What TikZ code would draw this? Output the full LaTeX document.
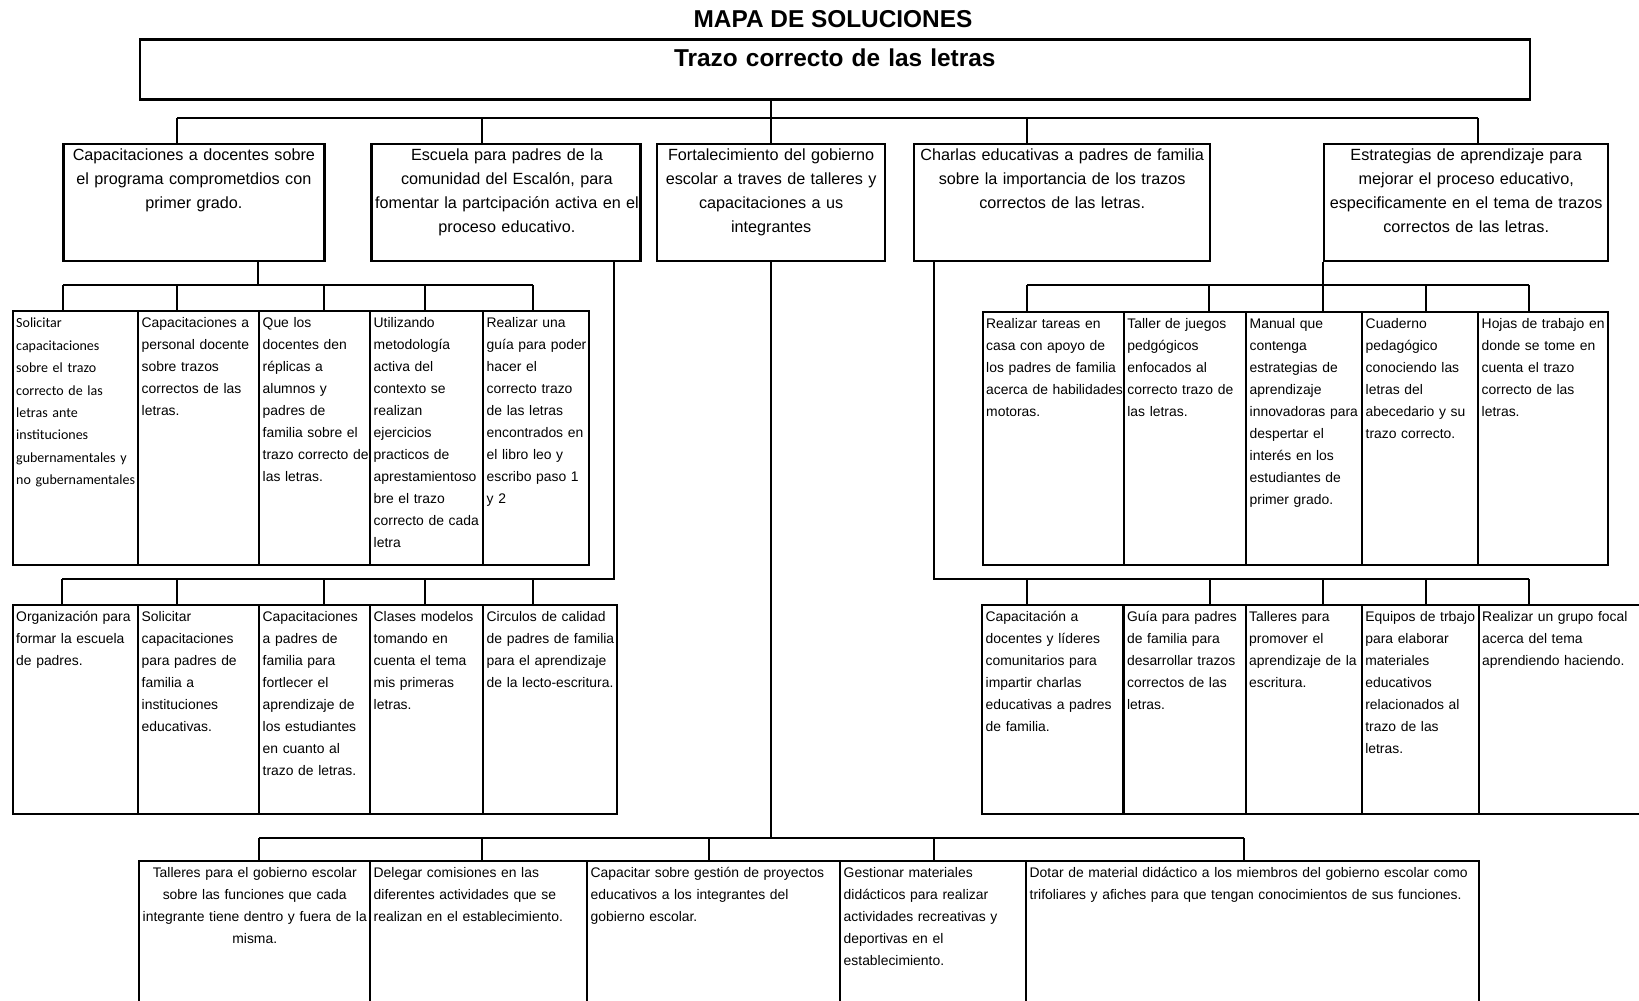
\documentclass[tikz,border=0pt]{standalone}
\usepackage{fontspec}
\setmainfont{Liberation Sans}
\newfontfamily\calfont{Carlito}
\usepackage{tikz}
% lines that never wrap
\newcommand{\lns}[1]{\begin{tabular}[t]{@{}l@{}}#1\end{tabular}}
\newcommand{\clns}[1]{\begin{tabular}[t]{@{}c@{}}#1\end{tabular}}

\begin{document}
\begin{tikzpicture}[x=1pt,y=-1pt,
  cell/.style={draw, line width=2.4pt, inner xsep=3.5pt, inner ysep=0pt, anchor=north west, align=left, font=\fontsize{13.9}{22}\selectfont},
  head/.style={cell, align=center, font=\fontsize{16.2}{24}\selectfont, text height=16.2pt, text depth=101.1pt},
  rowa/.style={cell, text height=16.6pt, text depth=236.9pt},
  rowb/.style={cell, text height=16.6pt, text depth=192.4pt},
  rowc/.style={cell, text height=16.6pt, text depth=143.4pt},
  link/.style={line width=2pt}]
\useasboundingbox (0,0) rectangle (1639,1001);
\clip (0,0) rectangle (1639,1001);

\node[font=\bfseries\fontsize{24.4}{28}\selectfont] (mapa) at (833,19) {MAPA DE SOLUCIONES};
\node[cell, align=center, font=\bfseries\fontsize{24.4}{28}\selectfont, text width=1383pt, text height=26.5pt, text depth=33.5pt] (trazo) at (138.6,38.3) {Trazo correcto de las letras};

% first level
\node[head, text width=254pt] (cap) at (62.2,142.7) {\clns{Capacitaciones a docentes sobre\\ el programa comprometdios con\\ primer grado.}};
\node[head, text width=262pt] (esc) at (370.3,142.7) {\clns{Escuela para padres de la\\ comunidad del Escalón, para\\ fomentar la partcipación activa en el\\ proceso educativo.}};
\node[head, text width=221pt] (fort) at (655.9,142.7) {\clns{Fortalecimiento del gobierno\\ escolar a traves de talleres y\\ capacitaciones a us\\ integrantes}};
\node[head, text width=289pt] (char) at (913,142.7) {\clns{Charlas educativas a padres de familia\\ sobre la importancia de los trazos\\ correctos de las letras.}};
\node[head, text width=277pt] (estr) at (1323,142.7) {\clns{Estrategias de aprendizaje para\\ mejorar el proceso educativo,\\ especificamente en el tema de trazos\\ correctos de las letras.}};

% left, second level
\node[rowa, text width=118.5pt, font=\calfont\fontsize{14}{22.4}\selectfont] (sol) at (11.5,310) {\lns{Solicitar\\ capacitaciones\\ sobre el trazo\\ correcto de las\\ letras ante\\ instituciones\\ gubernamentales y\\ no gubernamentales}};
\node[rowa, text width=114pt] (capd) at (137,310) {\lns{Capacitaciones a\\ personal docente\\ sobre trazos\\ correctos de las\\ letras.}};
\node[rowa, text width=104pt] (que) at (258,310) {\lns{Que los\\ docentes den\\ réplicas a\\ alumnos y\\ padres de\\ familia sobre el\\ trazo correcto de\\ las letras.}};
\node[rowa, text width=106pt] (util) at (369,310) {\lns{Utilizando\\ metodología\\ activa del\\ contexto se\\ realizan\\ ejercicios\\ practicos de\\ aprestamientoso\\ bre el trazo\\ correcto de cada\\ letra}};
\node[rowa, text width=98.5pt] (guia) at (482,310) {\lns{Realizar una\\ guía para poder\\ hacer el\\ correcto trazo\\ de las letras\\ encontrados en\\ el libro leo y\\ escribo paso 1\\ y 2}};

% left, third level
\node[rowb, text width=118.5pt] (org) at (11.5,604) {\lns{Organización para\\ formar la escuela\\ de padres.}};
\node[rowb, text width=114pt] (solp) at (137,604) {\lns{Solicitar\\ capacitaciones\\ para padres de\\ familia a\\ instituciones\\ educativas.}};
\node[rowb, text width=104pt] (capp) at (258,604) {\lns{Capacitaciones\\ a padres de\\ familia para\\ fortlecer el\\ aprendizaje de\\ los estudiantes\\ en cuanto al\\ trazo de letras.}};
\node[rowb, text width=106pt] (clas) at (369,604) {\lns{Clases modelos\\ tomando en\\ cuenta el tema\\ mis primeras\\ letras.}};
\node[rowb, text width=126.7pt] (circ) at (482,604) {\lns{Circulos de calidad\\ de padres de familia\\ para el aprendizaje\\ de la lecto-escritura.}};

% right, second level
\node[rowa, text width=134.2pt] (tar) at (981.5,310.5) {\lns{Realizar tareas en\\ casa con apoyo de\\ los padres de familia\\ acerca de habilidades\\ motoras.}};
\node[rowa, text width=115.3pt] (tal) at (1122.7,310.5) {\lns{Taller de juegos\\ pedgógicos\\ enfocados al\\ correcto trazo de\\ las letras.}};
\node[rowa, text width=109pt] (man) at (1245,310.5) {\lns{Manual que\\ contenga\\ estrategias de\\ aprendizaje\\ innovadoras para\\ despertar el\\ interés en los\\ estudiantes de\\ primer grado.}};
\node[rowa, text width=109pt] (cuad) at (1361,310.5) {\lns{Cuaderno\\ pedagógico\\ conociendo las\\ letras del\\ abecedario y su\\ trazo correcto.}};
\node[rowa, text width=122.6pt] (hoj) at (1477,310.5) {\lns{Hojas de trabajo en\\ donde se tome en\\ cuenta el trazo\\ correcto de las\\ letras.}};

% right, third level
\node[rowb, text width=134.4pt] (capl) at (981,604) {\lns{Capacitación a\\ docentes y líderes\\ comunitarios para\\ impartir charlas\\ educativas a padres\\ de familia.}};
\node[rowb, text width=115.1pt] (gpad) at (1122.4,604) {\lns{Guía para padres\\ de familia para\\ desarrollar trazos\\ correctos de las\\ letras.}};
\node[rowb, text width=109.1pt] (tesc) at (1244.5,604) {\lns{Talleres para\\ promover el\\ aprendizaje de la\\ escritura.}};
\node[rowb, text width=109.9pt] (equi) at (1360.6,604) {\lns{Equipos de trbajo\\ para elaborar\\ materiales\\ educativos\\ relacionados al\\ trazo de las\\ letras.}};
\node[rowb, text width=193pt] (foc) at (1477.5,604) {\lns{Realizar un grupo focal\\ acerca del tema\\ aprendiendo haciendo.}};

% bottom row
\node[rowc, text width=224pt, align=center] (tgob) at (138,860) {\clns{Talleres para el gobierno escolar\\ sobre las funciones que cada\\ integrante tiene dentro y fuera de la\\ misma.}};
\node[rowc, text width=210pt] (dele) at (369,860) {\lns{Delegar comisiones en las\\ diferentes actividades que se\\ realizan en el establecimiento.}};
\node[rowc, text width=246pt] (gest) at (586,860) {\lns{Capacitar sobre gestión de proyectos\\ educativos a los integrantes del\\ gobierno escolar.}};
\node[rowc, text width=179pt] (mat) at (839,860) {\lns{Gestionar materiales\\ didácticos para realizar\\ actividades recreativas y\\ deportivas en el\\ establecimiento.}};
\node[rowc, text width=446pt] (dot) at (1025,860) {\lns{Dotar de material didáctico a los miembros del gobierno escolar como\\ trifoliares y afiches para que tengan conocimientos de sus funciones.}};

% bus points
\coordinate (a1) at (177,118);
\coordinate (a2) at (482,118);
\coordinate (a4) at (1027,118);
\coordinate (a5) at (1478,118);
\coordinate (b0) at (258,285);
\coordinate (b1) at (63,285);
\coordinate (b2) at (177,285);
\coordinate (b3) at (324,285);
\coordinate (b4) at (425,285);
\coordinate (b5) at (532.5,285);
\coordinate (c0) at (614,579);
\coordinate (c1) at (62,579);
\coordinate (c2) at (177,579);
\coordinate (c3) at (323.5,579);
\coordinate (c4) at (425,579);
\coordinate (c5) at (532.5,579);
\coordinate (d0) at (934,579);
\coordinate (d1) at (1027,579);
\coordinate (d2) at (1210,579);
\coordinate (d3) at (1323,579);
\coordinate (d4) at (1425.6,579);
\coordinate (d5) at (1528.6,579);
\coordinate (e1) at (1027,285);
\coordinate (e2) at (1209,285);
\coordinate (e4) at (1426.4,285);
\coordinate (e5) at (1528.6,285);
\coordinate (f0) at (771,838);
\coordinate (f1) at (259,838);
\coordinate (f2) at (482,838);
\coordinate (f3) at (709,838);
\coordinate (f4) at (934,838);
\coordinate (f5) at (1244,838);

% connectors
\draw[link] (trazo.south -| f0) -- (f0 |- fort.north);
\draw[link] (a1) -- (a5);
\draw[link] (a1) -- (a1 |- cap.north);
\draw[link] (a2) -- (a2 |- esc.north);
\draw[link] (a4) -- (a4 |- char.north);
\draw[link] (a5) -- (a5 |- estr.north);

\draw[link] (b0 |- cap.south) -- (b0);
\draw[link] (b1) -- (b5);
\draw[link] (b1) -- (b1 |- sol.north);
\draw[link] (b2) -- (b2 |- capd.north);
\draw[link] (b3) -- (b3 |- que.north);
\draw[link] (b4) -- (b4 |- util.north);
\draw[link] (b5) -- (b5 |- guia.north);

\draw[link] (c0 |- esc.south) -- (c0) -- (c1);
\draw[link] (c1) -- (c1 |- org.north);
\draw[link] (c2) -- (c2 |- solp.north);
\draw[link] (c3) -- (c3 |- capp.north);
\draw[link] (c4) -- (c4 |- clas.north);
\draw[link] (c5) -- (c5 |- circ.north);

\draw[link] (d0 |- char.south) -- (d0) -- (d5);
\draw[link] (d1) -- (d1 |- capl.north);
\draw[link] (d2) -- (d2 |- gpad.north);
\draw[link] (d3) -- (d3 |- tesc.north);
\draw[link] (d4) -- (d4 |- equi.north);
\draw[link] (d5) -- (d5 |- foc.north);

\draw[link] (estr.south west) -- (estr.south west |- e1);
\draw[link] (e1) -- (e5);
\draw[link] (e1) -- (e1 |- tar.north);
\draw[link] (e2) -- (e2 |- tal.north);
\draw[link] (estr.south west |- e1) -- (estr.south west |- man.north);
\draw[link] (e4) -- (e4 |- cuad.north);
\draw[link] (e5) -- (e5 |- hoj.north);

\draw[link] (f0 |- fort.south) -- (f0);
\draw[link] (f1) -- (f5);
\draw[link] (f1) -- (f1 |- tgob.north);
\draw[link] (f2) -- (f2 |- dele.north);
\draw[link] (f3) -- (f3 |- gest.north);
\draw[link] (f4) -- (f4 |- mat.north);
\draw[link] (f5) -- (f5 |- dot.north);
\end{tikzpicture}
\end{document}
